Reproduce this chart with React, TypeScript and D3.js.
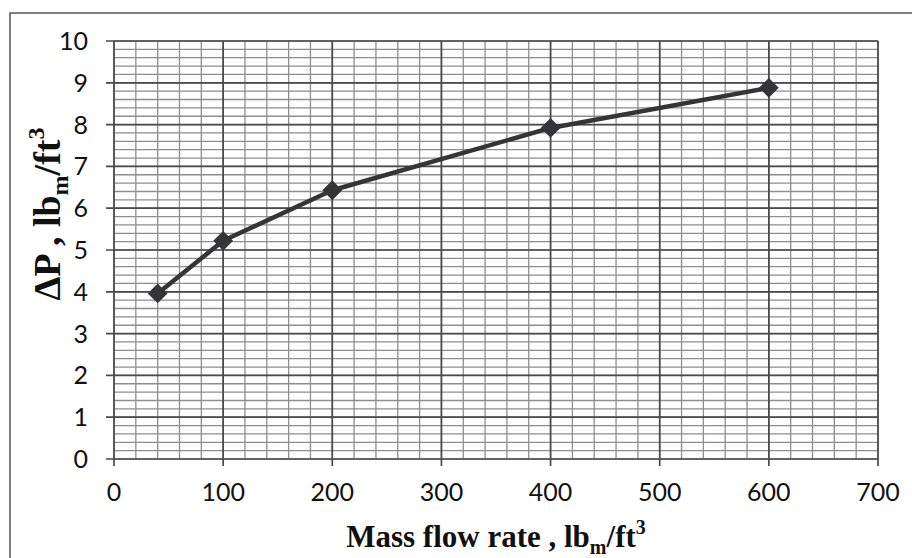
import React from "react";
import * as d3 from "d3";

const massFlow = [40, 100, 200, 400, 600];
const deltaP = [3.96, 5.22, 6.43, 7.92, 8.88];
const xTicks = [0, 100, 200, 300, 400, 500, 600, 700];
const yTicks = [0, 1, 2, 3, 4, 5, 6, 7, 8, 9, 10];

const W = 912;
const H = 558;
const M = { left: 114, right: 878, top: 41, bottom: 459 };

export default function App() {
  const x = d3.scaleLinear().domain([0, 700]).range([M.left, M.right]);
  const y = d3.scaleLinear().domain([0, 10]).range([M.bottom, M.top]);
  const xMinor = d3.range(0, 700.01, 20);
  const yMinor = d3.range(0, 10.001, 0.2);
  const pts = massFlow.map((v, i) => [x(v), y(deltaP[i])] as [number, number]);
  const line = d3.line()(pts) || "";
  const sans = "Lato, 'Open Sans', sans-serif";
  const serif = "'Liberation Serif', 'DejaVu Serif', serif";
  return (
    <svg width={W} height={H} style={{ position: "absolute", left: 0, top: 0, background: "#fff" }}>
      <rect x={0} y={0} width={W} height={H} fill="#fff" />
      <rect x={10} y={13} width={W + 20} height={H + 20} fill="none" stroke="#555" strokeWidth={1.5} />
      {xMinor.map((v) => (
        <line key={"xm" + v} x1={x(v)} x2={x(v)} y1={M.top} y2={M.bottom} stroke="#8e8e8e" strokeWidth={1.3} />
      ))}
      {yMinor.map((v, i) => (
        <line key={"ym" + i} x1={M.left} x2={M.right} y1={y(v)} y2={y(v)} stroke="#8e8e8e" strokeWidth={1.3} />
      ))}
      {xTicks.map((v) => (
        <line key={"xM" + v} x1={x(v)} x2={x(v)} y1={M.top} y2={M.bottom + 7} stroke="#4a4a4a" strokeWidth={1.7} />
      ))}
      {yTicks.map((v) => (
        <line key={"yM" + v} x1={M.left - 8} x2={M.right} y1={y(v)} y2={y(v)} stroke="#4a4a4a" strokeWidth={1.7} />
      ))}
      {yTicks.map((v) => (
        <text key={"yl" + v} x={88} y={y(v)} dy="0.36em" textAnchor="end" fontFamily={sans} fontSize={25} fill="#111">
          {v}
        </text>
      ))}
      {xTicks.map((v) => (
        <text key={"xl" + v} x={x(v)} y={501} textAnchor="middle" fontFamily={sans} fontSize={25} fill="#111">
          {v}
        </text>
      ))}
      <path d={line} fill="none" stroke="#353538" strokeWidth={4.5} strokeLinejoin="round" />
      {pts.map((p, i) => (
        <rect key={"pt" + i} x={p[0] - 7} y={p[1] - 7} width={14} height={14} fill="#353538"
          transform={`rotate(45 ${p[0]} ${p[1]})`} />
      ))}
      <text x={496} y={547} textAnchor="middle" fontFamily={serif} fontWeight="bold" fontSize={31} fill="#111">
        Mass flow rate , lb
        <tspan dy={7} fontSize={20}>m</tspan>
        <tspan dy={-7}>/ft</tspan>
        <tspan dy={-13} fontSize={20}>3</tspan>
      </text>
      <text transform={`translate(60, 214) rotate(-90)`} textAnchor="middle" fontFamily={serif} fontWeight="bold" fontSize={38} fill="#111">
        ΔP , lb
        <tspan dy={8} fontSize={24}>m</tspan>
        <tspan dy={-8}>/ft</tspan>
        <tspan dy={-16} fontSize={24}>3</tspan>
      </text>
    </svg>
  );
}
